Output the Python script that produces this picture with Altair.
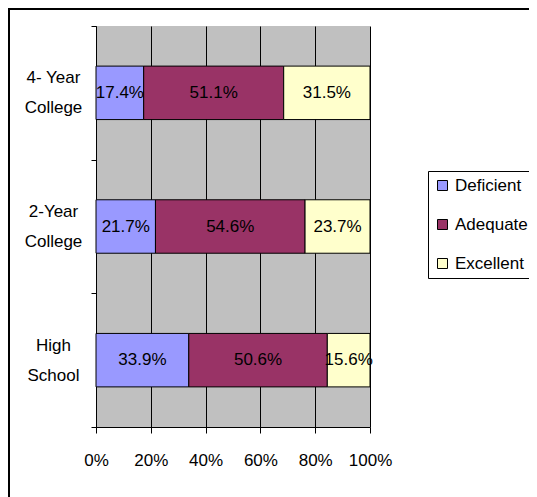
import altair as alt
import pandas as pd

levels = ["4- Year\nCollege", "2-Year\nCollege", "High\nSchool"]
ratings = ["Deficient", "Adequate", "Excellent"]
deficient = [17.4, 21.7, 33.9]
adequate = [51.1, 54.6, 50.6]
excellent = [31.5, 23.7, 15.6]
colors = ["#9999FF", "#993366", "#FFFFCC"]
x_ticks = [0, 0.2, 0.4, 0.6, 0.8, 1.0]

rows = []
for i, lv in enumerate(levels):
    for j, (r, vals) in enumerate(zip(ratings, [deficient, adequate, excellent])):
        rows.append({"level": lv, "rating": r, "value": vals[i], "order": j})
df = pd.DataFrame(rows)

FONT = "Liberation Sans, Arial, sans-serif"
FS = 17

base = alt.Chart(df).transform_stack(
    stack="value", groupby=["level"], as_=["x0", "x1"], offset="normalize",
    sort=[alt.SortField("order")]
).transform_calculate(
    mid="(datum.x0 + datum.x1) / 2",
    label="format(datum.value, '.1f') + '%'"
)

yenc = alt.Y("level:N", sort=levels, title=None,
             scale=alt.Scale(paddingInner=0, paddingOuter=0),
             axis=alt.Axis(labelExpr="split(datum.label, '\\n')", labelFont=FONT,
                           labelFontSize=FS, labelLineHeight=30, labelAlign="center",
                           labelBaseline="middle", labelPadding=38, labelOffset=-15,
                           labelColor="black",
                           tickBand="extent", tickSize=5, tickColor="black",
                           domainColor="black", grid=False))

bars = base.mark_bar(stroke="black", strokeWidth=1,
                     height=alt.RelativeBandSize(0.4)).encode(
    x=alt.X("x0:Q", scale=alt.Scale(domain=[0, 1]), title=None,
            axis=alt.Axis(values=x_ticks, format=".0%", labelFont=FONT, labelFontSize=FS,
                          labelColor="black", labelPadding=19, tickSize=6, tickColor="black",
                          labelOverlap=False, labelFlush=False,
                          domainColor="black", grid=True, gridColor="black", gridWidth=1,
                          gridOpacity=1)),
    x2="x1:Q",
    y=yenc,
    color=alt.Color("rating:N", scale=alt.Scale(domain=ratings, range=colors),
                    legend=alt.Legend(title=None, orient="none", legendX=332, legendY=145,
                                      strokeColor="black", fillColor="white", padding=6,
                                      symbolType="square", symbolSize=100,
                                      symbolStrokeColor="black", symbolStrokeWidth=1,
                                      labelFont=FONT, labelFontSize=FS, labelColor="black",
                                      rowPadding=21, labelOffset=4, cornerRadius=0)),
)

text = base.mark_text(font=FONT, fontSize=FS, color="black").encode(
    x=alt.X("mid:Q"),
    y=alt.Y("level:N", sort=levels),
    text="label:N",
)

frame_df = pd.DataFrame({"a": [0]})
frame_left = alt.Chart(frame_df).mark_rule(color="black", strokeWidth=2).encode(
    x=alt.value(-87), y=alt.value(-17), y2=alt.value(480))
frame_top = alt.Chart(frame_df).mark_rule(color="black", strokeWidth=2).encode(
    y=alt.value(-17), x=alt.value(-88), x2=alt.value(450))

chart = alt.layer(bars, text, frame_left, frame_top).properties(
    width=274, height=401,
    autosize=alt.AutoSizeParams(type="none"),
    padding={"left": 88, "top": 18, "right": 159, "bottom": 70},
).configure_view(fill="#C0C0C0", strokeWidth=0)

chart.save("out.html", embed_options={"renderer": "svg", "actions": False})
